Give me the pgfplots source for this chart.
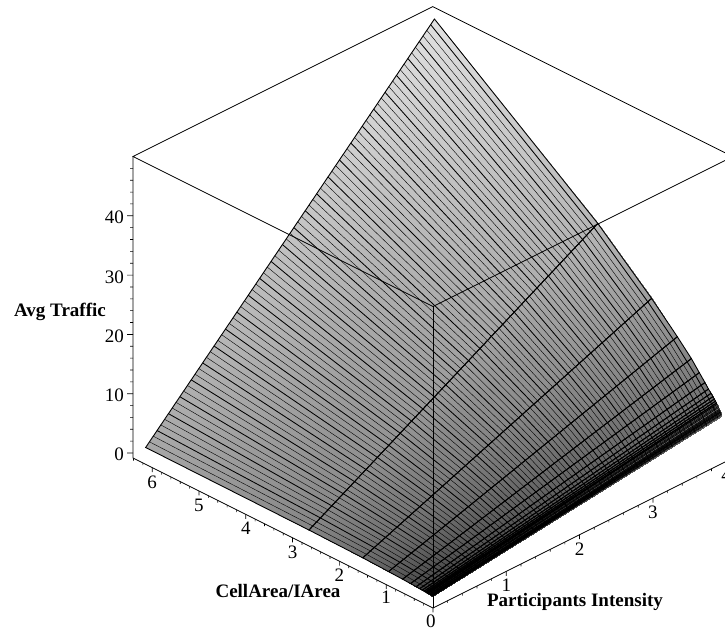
\documentclass[border=0pt]{standalone}
\usepackage{pgfplots}
\usepackage{pgfplotstable}
\usepackage{fontspec}
\setmainfont{Liberation Serif}
\pgfplotsset{compat=1.18}
\pgfplotstableread{
x y z c
6.14 0 2.00 .66
2.65 0 1.85 .52
1.50 0 1.70 .43
.95 0 1.55 .37
.65 0 1.45 .33
.48 0 1.38 .31
.36 0 1.33 .29
.285 0 1.29 .27
.23 0 1.26 .26
.19 0 1.24 .25
.16 0 1.22 .24
.135 0 1.20 .23
.117 0 1.19 .23
.102 0 1.18 .22
.09 0 1.17 .22
.079 0 1.16 .22
.07 0 1.15 .21
.056 0 1.14 .21
.046 0 1.13 .21
.038 0 1.13 .21
.032 0 1.12 .21
.027 0 1.12 .20
.023 0 1.12 .20
.02 0 1.11 .20
.012 0 1.11 .20
.006 0 1.10 .20
0 0 1.10 .20
6.14 3.94 49.9 .88
2.65 3.94 29.2 .72
1.50 3.94 21.1 .62
.95 3.94 16.8 .56
.65 3.94 14.3 .52
.48 3.94 12.6 .50
.36 3.94 11.4 .48
.285 3.94 10.6 .47
.23 3.94 10.1 .46
.19 3.94 9.7 .45
.16 3.94 9.4 .45
.135 3.94 9.15 .44
.117 3.94 8.9 .44
.102 3.94 8.75 .43
.09 3.94 8.6 .43
.079 3.94 8.47 .43
.07 3.94 8.33 .42
.056 3.94 8.1 .42
.046 3.94 8.0 .42
.038 3.94 7.9 .42
.032 3.94 7.78 .41
.027 3.94 7.7 .41
.023 3.94 7.65 .41
.02 3.94 7.6 .41
.012 3.94 7.45 .40
.006 3.94 7.32 .40
0 3.94 7.15 .40
}\surfdata
\pgfplotstableread{
x y z
6.14 0 2.00
2.65 0 1.85
1.50 0 1.70
.95 0 1.55
.65 0 1.45
.48 0 1.38
.36 0 1.33
.285 0 1.29
.23 0 1.26
.19 0 1.24
.16 0 1.22
.135 0 1.20
.117 0 1.19
.102 0 1.18
6.14 3.94 49.9
2.65 3.94 29.2
1.50 3.94 21.1
.95 3.94 16.8
.65 3.94 14.3
.48 3.94 12.6
.36 3.94 11.4
.285 3.94 10.6
.23 3.94 10.1
.19 3.94 9.7
.16 3.94 9.4
.135 3.94 9.15
.117 3.94 8.9
.102 3.94 8.75
}\sparsedata
\pgfplotstableread{
x y z
.09 0 1.17
.079 0 1.16
.07 0 1.15
.056 0 1.14
.046 0 1.13
.038 0 1.13
.032 0 1.12
.027 0 1.12
.02 0 1.11
.012 0 1.11
.006 0 1.10
.09 3.94 8.6
.079 3.94 8.47
.07 3.94 8.33
.056 3.94 8.1
.046 3.94 8.0
.038 3.94 7.9
.032 3.94 7.78
.027 3.94 7.7
.02 3.94 7.6
.012 3.94 7.45
.006 3.94 7.32
}\finedata
\newcommand{\lbl}{\fontsize{19}{19}\selectfont}
\newcommand{\dl}[9]{\addplot3 coordinates {(6.14,#1,#2)(2.65,#1,#3)(1.5,#1,#4)(.95,#1,#5)(.48,#1,#6)(.23,#1,#7)(.102,#1,#8)(0,#1,#9)};}
\begin{document}
\begin{tikzpicture}[x=1pt,y=1pt]
\path[use as bounding box,clip] (-433pt,-27pt) rectangle (292pt,603pt);
\begin{axis}[
  at={(0pt,0pt)},anchor=origin,hide axis,clip=false,
  x={(-46.8pt,23.4pt)},y={(73.3pt,36.65pt)},z={(0pt,5.93pt)},
  xmin=0,xmax=6.41,ymin=0,ymax=4.09,zmin=-.85,zmax=50,
  colormap/blackwhite,point meta min=0,point meta max=1,
  cycle list={{black,no markers,line width=.85pt}},
]
\addplot3[surf,shader=interp,mesh/rows=2,point meta=explicit] table[x=x,y=y,z=z,meta=c] {\surfdata};
\addplot3[mesh,mesh/rows=2,point meta=0,line width=.3pt] table[x=x,y=y,z=z] {\finedata};
\addplot3[mesh,mesh/rows=2,point meta=0,line width=.9pt] table[x=x,y=y,z=z] {\sparsedata};
% dense lines of constant intensity
\dl{.052}{2.63}{2.21}{1.96}{1.75}{1.53}{1.38}{1.28}{1.18}
\dl{.104}{3.26}{2.57}{2.21}{1.95}{1.68}{1.49}{1.38}{1.26}
\dl{.156}{3.89}{2.93}{2.47}{2.15}{1.82}{1.61}{1.48}{1.34}
\dl{.207}{4.52}{3.29}{2.72}{2.35}{1.97}{1.73}{1.58}{1.42}
\dl{.259}{5.15}{3.65}{2.98}{2.55}{2.12}{1.84}{1.68}{1.50}
\dl{.311}{5.78}{4.01}{3.23}{2.75}{2.27}{1.96}{1.78}{1.58}
\dl{.363}{6.41}{4.37}{3.49}{2.95}{2.41}{2.07}{1.88}{1.66}
\dl{.415}{7.04}{4.73}{3.74}{3.16}{2.56}{2.19}{1.98}{1.74}
\dl{.467}{7.67}{5.09}{4.00}{3.36}{2.71}{2.31}{2.08}{1.82}
\dl{.518}{8.30}{5.45}{4.25}{3.56}{2.86}{2.42}{2.18}{1.90}
\dl{.570}{8.93}{5.81}{4.51}{3.76}{3.00}{2.54}{2.28}{1.98}
\dl{.622}{9.56}{6.17}{4.76}{3.96}{3.15}{2.66}{2.38}{2.06}
\dl{.674}{10.19}{6.53}{5.02}{4.16}{3.30}{2.77}{2.47}{2.13}
\dl{.726}{10.82}{6.89}{5.27}{4.36}{3.45}{2.89}{2.57}{2.21}
\dl{.778}{11.45}{7.25}{5.53}{4.56}{3.59}{3.00}{2.67}{2.29}
\dl{.829}{12.08}{7.61}{5.78}{4.76}{3.74}{3.12}{2.77}{2.37}
\dl{.881}{12.71}{7.97}{6.04}{4.96}{3.89}{3.24}{2.87}{2.45}
\dl{.933}{13.34}{8.33}{6.29}{5.16}{4.04}{3.35}{2.97}{2.53}
\dl{.985}{13.98}{8.69}{6.55}{5.36}{4.19}{3.47}{3.07}{2.61}
\dl{1.037}{14.61}{9.05}{6.81}{5.56}{4.33}{3.59}{3.17}{2.69}
\dl{1.089}{15.24}{9.41}{7.06}{5.76}{4.48}{3.70}{3.27}{2.77}
\dl{1.141}{15.87}{9.77}{7.32}{5.96}{4.63}{3.82}{3.37}{2.85}
\dl{1.192}{16.50}{10.13}{7.57}{6.17}{4.78}{3.94}{3.47}{2.93}
\dl{1.244}{17.13}{10.49}{7.83}{6.37}{4.92}{4.05}{3.57}{3.01}
\dl{1.296}{17.76}{10.85}{8.08}{6.57}{5.07}{4.17}{3.67}{3.09}
\dl{1.348}{18.39}{11.21}{8.34}{6.77}{5.22}{4.28}{3.77}{3.17}
\dl{1.400}{19.02}{11.57}{8.59}{6.97}{5.37}{4.40}{3.87}{3.25}
\dl{1.452}{19.65}{11.93}{8.85}{7.17}{5.51}{4.52}{3.97}{3.33}
\dl{1.503}{20.28}{12.29}{9.10}{7.37}{5.66}{4.63}{4.07}{3.41}
\dl{1.555}{20.91}{12.65}{9.36}{7.57}{5.81}{4.75}{4.17}{3.49}
\dl{1.607}{21.54}{13.01}{9.61}{7.77}{5.96}{4.87}{4.27}{3.57}
\dl{1.659}{22.17}{13.37}{9.87}{7.97}{6.10}{4.98}{4.37}{3.65}
\dl{1.711}{22.80}{13.73}{10.12}{8.17}{6.25}{5.10}{4.47}{3.73}
\dl{1.763}{23.43}{14.09}{10.38}{8.37}{6.40}{5.21}{4.57}{3.81}
\dl{1.815}{24.06}{14.45}{10.63}{8.57}{6.55}{5.33}{4.67}{3.89}
\dl{1.866}{24.69}{14.81}{10.89}{8.77}{6.69}{5.45}{4.77}{3.97}
\dl{1.918}{25.32}{15.17}{11.14}{8.97}{6.84}{5.56}{4.87}{4.05}
\dl{1.970}{25.95}{15.52}{11.40}{9.18}{6.99}{5.68}{4.97}{4.13}
\dl{2.022}{26.58}{15.88}{11.66}{9.38}{7.14}{5.80}{5.06}{4.20}
\dl{2.074}{27.21}{16.24}{11.91}{9.58}{7.29}{5.91}{5.16}{4.28}
\dl{2.126}{27.84}{16.60}{12.17}{9.78}{7.43}{6.03}{5.26}{4.36}
\dl{2.177}{28.47}{16.96}{12.42}{9.98}{7.58}{6.15}{5.36}{4.44}
\dl{2.229}{29.10}{17.32}{12.68}{10.18}{7.73}{6.26}{5.46}{4.52}
\dl{2.281}{29.73}{17.68}{12.93}{10.38}{7.88}{6.38}{5.56}{4.60}
\dl{2.333}{30.36}{18.04}{13.19}{10.58}{8.02}{6.49}{5.66}{4.68}
\dl{2.385}{30.99}{18.40}{13.44}{10.78}{8.17}{6.61}{5.76}{4.76}
\dl{2.437}{31.62}{18.76}{13.70}{10.98}{8.32}{6.73}{5.86}{4.84}
\dl{2.488}{32.25}{19.12}{13.95}{11.18}{8.47}{6.84}{5.96}{4.92}
\dl{2.540}{32.88}{19.48}{14.21}{11.38}{8.61}{6.96}{6.06}{5.00}
\dl{2.592}{33.51}{19.84}{14.46}{11.58}{8.76}{7.08}{6.16}{5.08}
\dl{2.644}{34.14}{20.20}{14.72}{11.78}{8.91}{7.19}{6.26}{5.16}
\dl{2.696}{34.77}{20.56}{14.97}{11.98}{9.06}{7.31}{6.36}{5.24}
\dl{2.748}{35.40}{20.92}{15.23}{12.18}{9.20}{7.42}{6.46}{5.32}
\dl{2.800}{36.03}{21.28}{15.48}{12.39}{9.35}{7.54}{6.56}{5.40}
\dl{2.851}{36.66}{21.64}{15.74}{12.59}{9.50}{7.66}{6.66}{5.48}
\dl{2.903}{37.29}{22.00}{15.99}{12.79}{9.65}{7.77}{6.76}{5.56}
\dl{2.955}{37.93}{22.36}{16.25}{12.99}{9.80}{7.89}{6.86}{5.64}
\dl{3.007}{38.56}{22.72}{16.50}{13.19}{9.94}{8.01}{6.96}{5.72}
\dl{3.059}{39.19}{23.08}{16.76}{13.39}{10.09}{8.12}{7.06}{5.80}
\dl{3.111}{39.82}{23.44}{17.02}{13.59}{10.24}{8.24}{7.16}{5.88}
\dl{3.162}{40.45}{23.80}{17.27}{13.79}{10.39}{8.36}{7.26}{5.96}
\dl{3.214}{41.08}{24.16}{17.53}{13.99}{10.53}{8.47}{7.36}{6.04}
\dl{3.266}{41.71}{24.52}{17.78}{14.19}{10.68}{8.59}{7.46}{6.12}
\dl{3.318}{42.34}{24.88}{18.04}{14.39}{10.83}{8.70}{7.55}{6.20}
\dl{3.370}{42.97}{25.24}{18.29}{14.59}{10.98}{8.82}{7.65}{6.27}
\dl{3.422}{43.60}{25.60}{18.55}{14.79}{11.12}{8.94}{7.75}{6.35}
\dl{3.474}{44.23}{25.96}{18.80}{14.99}{11.27}{9.05}{7.85}{6.43}
\dl{3.525}{44.86}{26.32}{19.06}{15.19}{11.42}{9.17}{7.95}{6.51}
\dl{3.577}{45.49}{26.68}{19.31}{15.40}{11.57}{9.29}{8.05}{6.59}
\dl{3.629}{46.12}{27.04}{19.57}{15.60}{11.71}{9.40}{8.15}{6.67}
\dl{3.681}{46.75}{27.40}{19.82}{15.80}{11.86}{9.52}{8.25}{6.75}
\dl{3.733}{47.38}{27.76}{20.08}{16.00}{12.01}{9.64}{8.35}{6.83}
\dl{3.785}{48.01}{28.12}{20.33}{16.20}{12.16}{9.75}{8.45}{6.91}
\dl{3.836}{48.64}{28.48}{20.59}{16.40}{12.30}{9.87}{8.55}{6.99}
\dl{3.888}{49.27}{28.84}{20.84}{16.60}{12.45}{9.98}{8.65}{7.07}
% box
\addplot3[black,line width=.8pt] coordinates {(0,0,50)(6.41,0,50)(6.41,4.09,50)(0,4.09,50)(0,0,50)};
\addplot3[black,line width=.8pt] coordinates {(6.41,0,50)(6.41,0,-.85)(0,0,-.85)(0,4.09,-.85)(0,4.09,50)};
\addplot3[black,line width=.8pt] coordinates {(0,0,-.85)(0,0,50)};
% ticks
\addplot3[black,line width=.7pt,unbounded coords=jump] table[row sep=\\] {x y z\\
0 0 -.85\\0 0 -1.6\\nan nan nan\\1 0 -.85\\1 0 -1.6\\nan nan nan\\2 0 -.85\\2 0 -1.6\\nan nan nan\\3 0 -.85\\3 0 -1.6\\nan nan nan\\4 0 -.85\\4 0 -1.6\\nan nan nan\\5 0 -.85\\5 0 -1.6\\nan nan nan\\6 0 -.85\\6 0 -1.6\\nan nan nan\\
0 1 -.85\\0 1 -1.6\\nan nan nan\\0 2 -.85\\0 2 -1.6\\nan nan nan\\0 3 -.85\\0 3 -1.6\\nan nan nan\\0 4 -.85\\0 4 -1.6\\nan nan nan\\
6.41 0 0\\6.474 -.041 0\\nan nan nan\\6.41 0 10\\6.474 -.041 10\\nan nan nan\\6.41 0 20\\6.474 -.041 20\\nan nan nan\\6.41 0 30\\6.474 -.041 30\\nan nan nan\\6.41 0 40\\6.474 -.041 40\\
};
\addplot3[black,line width=.6pt,unbounded coords=jump] table[row sep=\\] {x y z\\
.2 0 -.85\\.2 0 -1.23\\nan nan nan\\.4 0 -.85\\.4 0 -1.23\\nan nan nan\\.6 0 -.85\\.6 0 -1.23\\nan nan nan\\.8 0 -.85\\.8 0 -1.23\\nan nan nan\\
1.2 0 -.85\\1.2 0 -1.23\\nan nan nan\\1.4 0 -.85\\1.4 0 -1.23\\nan nan nan\\1.6 0 -.85\\1.6 0 -1.23\\nan nan nan\\1.8 0 -.85\\1.8 0 -1.23\\nan nan nan\\
2.2 0 -.85\\2.2 0 -1.23\\nan nan nan\\2.4 0 -.85\\2.4 0 -1.23\\nan nan nan\\2.6 0 -.85\\2.6 0 -1.23\\nan nan nan\\2.8 0 -.85\\2.8 0 -1.23\\nan nan nan\\
3.2 0 -.85\\3.2 0 -1.23\\nan nan nan\\3.4 0 -.85\\3.4 0 -1.23\\nan nan nan\\3.6 0 -.85\\3.6 0 -1.23\\nan nan nan\\3.8 0 -.85\\3.8 0 -1.23\\nan nan nan\\
4.2 0 -.85\\4.2 0 -1.23\\nan nan nan\\4.4 0 -.85\\4.4 0 -1.23\\nan nan nan\\4.6 0 -.85\\4.6 0 -1.23\\nan nan nan\\4.8 0 -.85\\4.8 0 -1.23\\nan nan nan\\
5.2 0 -.85\\5.2 0 -1.23\\nan nan nan\\5.4 0 -.85\\5.4 0 -1.23\\nan nan nan\\5.6 0 -.85\\5.6 0 -1.23\\nan nan nan\\5.8 0 -.85\\5.8 0 -1.23\\nan nan nan\\
6.2 0 -.85\\6.2 0 -1.23\\nan nan nan\\6.4 0 -.85\\6.4 0 -1.23\\nan nan nan\\
0 .2 -.85\\0 .2 -1.23\\nan nan nan\\0 .4 -.85\\0 .4 -1.23\\nan nan nan\\0 .6 -.85\\0 .6 -1.23\\nan nan nan\\0 .8 -.85\\0 .8 -1.23\\nan nan nan\\
0 1.2 -.85\\0 1.2 -1.23\\nan nan nan\\0 1.4 -.85\\0 1.4 -1.23\\nan nan nan\\0 1.6 -.85\\0 1.6 -1.23\\nan nan nan\\0 1.8 -.85\\0 1.8 -1.23\\nan nan nan\\
0 2.2 -.85\\0 2.2 -1.23\\nan nan nan\\0 2.4 -.85\\0 2.4 -1.23\\nan nan nan\\0 2.6 -.85\\0 2.6 -1.23\\nan nan nan\\0 2.8 -.85\\0 2.8 -1.23\\nan nan nan\\
0 3.2 -.85\\0 3.2 -1.23\\nan nan nan\\0 3.4 -.85\\0 3.4 -1.23\\nan nan nan\\0 3.6 -.85\\0 3.6 -1.23\\nan nan nan\\0 3.8 -.85\\0 3.8 -1.23\\nan nan nan\\0 4.0 -.85\\0 4.0 -1.23\\nan nan nan\\
6.41 0 2\\6.442 -.02 2\\nan nan nan\\6.41 0 4\\6.442 -.02 4\\nan nan nan\\6.41 0 6\\6.442 -.02 6\\nan nan nan\\6.41 0 8\\6.442 -.02 8\\nan nan nan\\
6.41 0 12\\6.442 -.02 12\\nan nan nan\\6.41 0 14\\6.442 -.02 14\\nan nan nan\\6.41 0 16\\6.442 -.02 16\\nan nan nan\\6.41 0 18\\6.442 -.02 18\\nan nan nan\\
6.41 0 22\\6.442 -.02 22\\nan nan nan\\6.41 0 24\\6.442 -.02 24\\nan nan nan\\6.41 0 26\\6.442 -.02 26\\nan nan nan\\6.41 0 28\\6.442 -.02 28\\nan nan nan\\
6.41 0 32\\6.442 -.02 32\\nan nan nan\\6.41 0 34\\6.442 -.02 34\\nan nan nan\\6.41 0 36\\6.442 -.02 36\\nan nan nan\\6.41 0 38\\6.442 -.02 38\\nan nan nan\\
6.41 0 42\\6.442 -.02 42\\nan nan nan\\6.41 0 44\\6.442 -.02 44\\nan nan nan\\6.41 0 46\\6.442 -.02 46\\nan nan nan\\6.41 0 48\\6.442 -.02 48\\
};
% tick labels
\tikzset{tl/.style={inner sep=0pt,font=\lbl}}
\node[tl,yshift=-14.3pt] at (axis cs:6,0,-.85) {6};
\node[tl,yshift=-14.3pt] at (axis cs:5,0,-.85) {5};
\node[tl,yshift=-14.3pt] at (axis cs:4,0,-.85) {4};
\node[tl,yshift=-14.3pt] at (axis cs:3,0,-.85) {3};
\node[tl,yshift=-14.3pt] at (axis cs:2,0,-.85) {2};
\node[tl,yshift=-13pt] at (axis cs:1,0,-.85) {1};
\node[tl,yshift=-13pt,xshift=-2pt] at (axis cs:0,0,-.85) {0};
\node[tl,yshift=-14.3pt] at (axis cs:0,1,-.85) {1};
\node[tl,yshift=-14.3pt] at (axis cs:0,2,-.85) {2};
\node[tl,yshift=-14.3pt] at (axis cs:0,3,-.85) {3};
\node[tl,yshift=-14.3pt] at (axis cs:0,4,-.85) {4};
\node[tl,anchor=east,xshift=-9pt,yshift=-1.7pt] at (axis cs:6.41,0,0) {0};
\node[tl,anchor=east,xshift=-9pt,yshift=-1.7pt] at (axis cs:6.41,0,10) {10};
\node[tl,anchor=east,xshift=-9pt,yshift=-1.7pt] at (axis cs:6.41,0,20) {20};
\node[tl,anchor=east,xshift=-9pt,yshift=-1.7pt] at (axis cs:6.41,0,30) {30};
\node[tl,anchor=east,xshift=-9pt,yshift=-1.7pt] at (axis cs:6.41,0,40) {40};
\end{axis}
\node[inner sep=0pt,font=\lbl\bfseries] at (-373pt,291.5pt) {Avg Traffic};
\node[inner sep=0pt,font=\lbl\bfseries] at (-155pt,11.8pt) {CellArea/IArea};
\node[inner sep=0pt,font=\lbl\bfseries] at (142pt,1pt) {Participants Intensity};
\end{tikzpicture}
\end{document}
